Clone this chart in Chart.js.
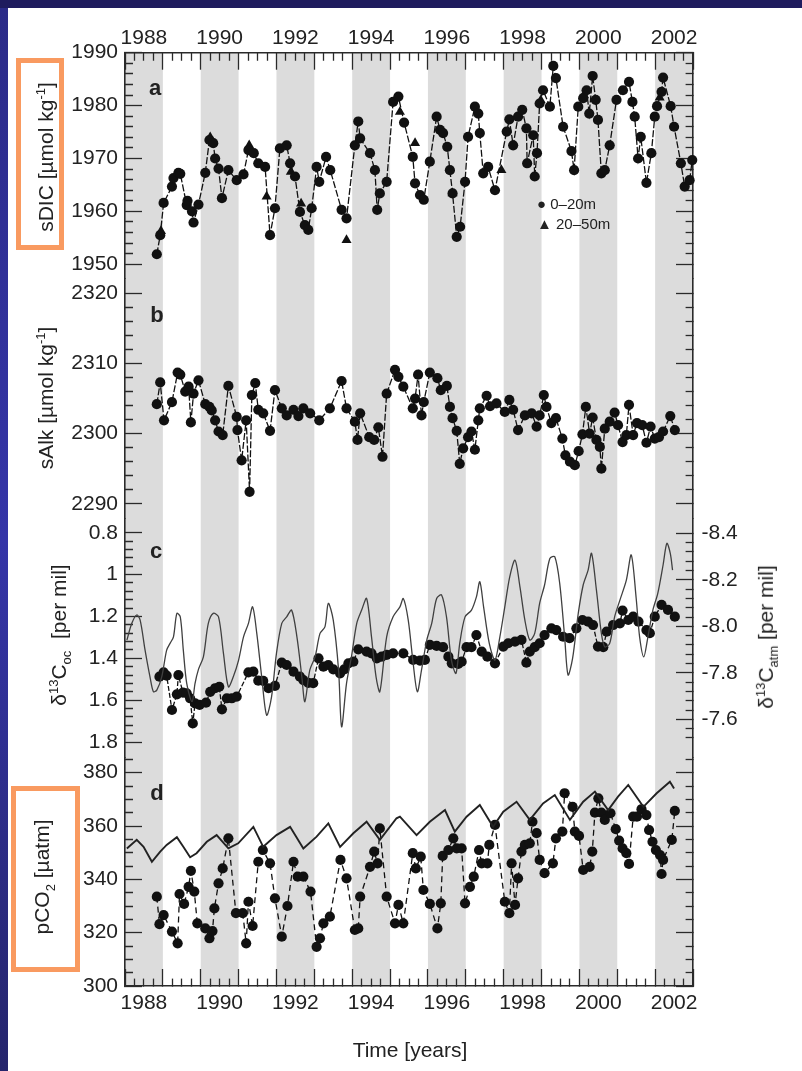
<!DOCTYPE html>
<html><head><meta charset="utf-8">
<script src="https://cdn.jsdelivr.net/npm/chart.js@4.4.0/dist/chart.umd.min.js"></script>
<style>
html,body{margin:0;padding:0;width:802px;height:1071px;overflow:hidden;background:#1f1c5e;font-family:"Liberation Sans",Arial,sans-serif;}
#paper{position:absolute;left:8px;top:8px;width:794px;height:1063px;background:#fff;}
#strip{position:absolute;left:0;top:8px;width:8px;height:1063px;background:linear-gradient(#2b2b88,#3535a8 50%,#25256c);}
#ttl{position:absolute;left:0;top:0;width:802px;height:8px;overflow:hidden;}
#ttl span{position:absolute;top:-36px;font-size:30px;line-height:34px;color:#f2d675;}
canvas{position:absolute;left:0;top:0;}
.t{position:absolute;white-space:nowrap;color:#222;font-size:21px;transform:translate(-50%,-50%) rotate(-90deg);line-height:1;}
.t sup,.t sub{font-size:13px;}
.box{position:absolute;border:5px solid #f99a60;box-sizing:border-box;}
.lt{position:absolute;font-weight:bold;font-size:22px;color:#222;transform:translate(-50%,-50%);}
.lg{position:absolute;font-size:15px;color:#222;white-space:nowrap;}
</style></head>
<body>
<div id="paper"></div><div id="strip"></div>
<div id="ttl"><span style="left:220px;">(</span><span style="left:413px;">)</span></div>
<div class="box" style="left:16px;top:58px;width:48px;height:192px;"></div>
<div class="box" style="left:11px;top:786px;width:69px;height:186px;"></div>
<canvas id="c" width="802" height="1071"></canvas>
<div class="t" style="left:45px;top:157px;">sDIC [µmol kg<sup>-1</sup>]</div>
<div class="t" style="left:45px;top:398px;">sAlk [µmol kg<sup>-1</sup>]</div>
<div class="t" style="left:60px;top:635px;">δ<sup>13</sup>C<sub>oc</sub>&nbsp;&nbsp;[per mil]</div>
<div class="t" style="left:44px;top:877px;">pCO<sub>2</sub> [µatm]</div>
<div class="t" style="left:767px;top:637px;">δ<sup>13</sup>C<sub>atm</sub> [per mil]</div>
<div class="lt" style="left:155px;top:88px;">a</div>
<div class="lt" style="left:157px;top:315px;">b</div>
<div class="lt" style="left:156px;top:551px;">c</div>
<div class="lt" style="left:157px;top:793px;">d</div>
<div class="lg" style="left:537px;top:195px;">●&nbsp;0–20m</div>
<div class="lg" style="left:537px;top:215px;">▲&nbsp;20–50m</div>
<div style="position:absolute;left:410px;top:1050px;transform:translate(-50%,-50%);font-size:21px;color:#222;white-space:nowrap;">Time [years]</div>
<script>
// ---------- DATA ----------
const bandStart = [1987.5, 1989.5, 1991.5, 1993.5, 1995.5, 1997.5, 1999.5, 2001.5];
const bandEnd   = [1988.5, 1990.5, 1992.5, 1994.5, 1996.5, 1998.5, 2000.5, 2002.5];
const yearLabels = [1988, 1990, 1992, 1994, 1996, 1998, 2000, 2002];

const sdic_0_20 = [[1988.34,1951.9],[1988.43,1955.5],[1988.52,1961.6],[1988.74,1964.7],[1988.78,1966.3],[1988.91,1967.3],[1988.96,1967.1],[1989.13,1961.2],[1989.15,1962.0],[1989.27,1960.0],[1989.31,1957.9],[1989.44,1961.3],[1989.62,1967.3],[1989.73,1973.5],[1989.83,1972.9],[1989.88,1970.0],[1989.97,1968.1],[1990.06,1962.5],[1990.23,1967.8],[1990.45,1965.9],[1990.63,1967.0],[1990.76,1971.6],[1990.90,1971.0],[1991.02,1969.1],[1991.20,1968.4],[1991.33,1955.5],[1991.46,1960.6],[1991.59,1971.9],[1991.77,1972.5],[1991.86,1969.1],[1991.99,1966.6],[1992.12,1959.9],[1992.25,1957.4],[1992.34,1956.5],[1992.43,1960.6],[1992.56,1968.4],[1992.63,1965.6],[1992.81,1970.3],[1992.92,1967.8],[1993.22,1960.3],[1993.35,1958.7],[1993.57,1972.5],[1993.66,1977.0],[1993.71,1973.8],[1993.97,1971.0],[1994.10,1967.8],[1994.16,1960.3],[1994.23,1963.4],[1994.41,1965.6],[1994.58,1980.7],[1994.72,1981.7],[1994.87,1976.8],[1995.10,1970.3],[1995.16,1965.3],[1995.29,1963.1],[1995.39,1962.2],[1995.55,1969.4],[1995.73,1977.9],[1995.82,1975.4],[1995.90,1974.8],[1996.01,1972.2],[1996.08,1967.8],[1996.15,1963.4],[1996.26,1955.2],[1996.35,1957.1],[1996.48,1965.6],[1996.56,1974.1],[1996.74,1979.8],[1996.83,1978.5],[1996.87,1974.8],[1996.96,1967.2],[1997.09,1968.4],[1997.27,1964.0],[1997.58,1975.1],[1997.65,1977.4],[1997.75,1972.5],[1997.88,1977.9],[1997.99,1979.2],[1998.10,1975.7],[1998.12,1969.1],[1998.28,1974.4],[1998.32,1966.6],[1998.38,1971.0],[1998.45,1980.4],[1998.54,1982.9],[1998.72,1979.8],[1998.81,1987.5],[1998.88,1985.2],[1999.07,1976.0],[1999.29,1971.4],[1999.36,1967.8],[1999.47,1979.8],[1999.60,1981.4],[1999.69,1982.9],[1999.76,1978.5],[1999.85,1985.6],[1999.93,1981.1],[1999.99,1977.3],[2000.08,1967.2],[2000.17,1967.8],[2000.30,1972.5],[2000.48,1981.1],[2000.65,1982.9],[2000.81,1984.5],[2000.90,1980.7],[2000.96,1977.9],[2001.05,1970.0],[2001.12,1974.1],[2001.27,1965.4],[2001.40,1971.0],[2001.49,1977.9],[2001.55,1979.9],[2001.67,1982.6],[2001.71,1985.3],[2001.91,1979.9],[2002.00,1976.0],[2002.18,1969.1],[2002.28,1964.7],[2002.41,1965.9],[2002.48,1969.7]];
const sdic_20_50 = [[1988.45,1956.3],[1989.75,1974.0],[1990.78,1972.5],[1991.24,1962.8],[1991.88,1967.5],[1992.15,1961.5],[1993.35,1954.6],[1994.76,1978.8],[1995.16,1972.9],[1996.15,1963.4],[1997.44,1967.8],[1998.48,1981.0],[1999.62,1982.0],[2001.62,1981.5]];

const salk = [[1988.34,2304.2],[1988.43,2307.3],[1988.53,2301.9],[1988.74,2304.5],[1988.89,2308.7],[1988.96,2308.4],[1989.09,2306.0],[1989.18,2306.7],[1989.24,2301.6],[1989.31,2305.7],[1989.44,2307.6],[1989.62,2304.2],[1989.73,2303.8],[1989.79,2303.3],[1989.88,2301.9],[1989.97,2300.3],[1990.08,2299.8],[1990.23,2306.8],[1990.45,2302.4],[1990.47,2300.5],[1990.58,2296.2],[1990.70,2301.9],[1990.79,2291.7],[1990.85,2305.5],[1990.94,2307.2],[1991.02,2303.4],[1991.15,2302.9],[1991.33,2300.4],[1991.46,2306.2],[1991.64,2303.6],[1991.77,2302.6],[1991.95,2303.4],[1992.08,2302.5],[1992.21,2303.6],[1992.39,2302.9],[1992.63,2301.9],[1992.91,2303.6],[1993.22,2307.5],[1993.35,2303.6],[1993.57,2301.7],[1993.64,2299.1],[1993.71,2302.9],[1993.95,2299.5],[1994.08,2299.1],[1994.19,2300.9],[1994.30,2296.7],[1994.41,2305.7],[1994.63,2309.1],[1994.72,2308.1],[1994.85,2306.7],[1995.10,2303.6],[1995.16,2305.0],[1995.24,2308.4],[1995.33,2302.6],[1995.39,2304.5],[1995.55,2308.7],[1995.75,2307.9],[1995.84,2306.2],[1996.00,2306.8],[1996.08,2303.8],[1996.15,2302.2],[1996.26,2300.4],[1996.34,2295.7],[1996.43,2297.9],[1996.56,2299.5],[1996.65,2300.3],[1996.74,2297.7],[1996.83,2301.9],[1996.87,2303.6],[1997.05,2305.4],[1997.14,2303.9],[1997.31,2304.3],[1997.53,2303.1],[1997.65,2304.8],[1997.75,2303.4],[1997.88,2300.5],[1998.06,2302.6],[1998.24,2302.9],[1998.37,2301.0],[1998.45,2302.6],[1998.56,2305.5],[1998.63,2303.8],[1998.76,2301.5],[1998.88,2302.2],[1999.05,2299.3],[1999.13,2296.9],[1999.25,2296.0],[1999.38,2295.5],[1999.48,2297.5],[1999.58,2299.9],[1999.67,2303.8],[1999.77,2300.0],[1999.85,2302.3],[1999.95,2299.1],[2000.04,2298.1],[2000.08,2295.0],[2000.17,2300.7],[2000.30,2301.7],[2000.43,2303.0],[2000.52,2301.2],[2000.64,2298.8],[2000.74,2299.8],[2000.81,2304.1],[2000.92,2299.8],[2001.02,2301.5],[2001.16,2301.2],[2001.27,2298.7],[2001.38,2301.0],[2001.49,2299.3],[2001.60,2299.5],[2001.71,2300.3],[2001.90,2302.5],[2002.02,2300.5]];

const d13c_ocean = [[1988.41,1.488],[1988.52,1.467],[1988.60,1.483],[1988.74,1.647],[1988.87,1.572],[1988.91,1.480],[1989.03,1.564],[1989.13,1.567],[1989.22,1.591],[1989.29,1.711],[1989.35,1.615],[1989.47,1.623],[1989.64,1.612],[1989.75,1.560],[1989.88,1.543],[1989.99,1.536],[1990.06,1.644],[1990.19,1.591],[1990.32,1.591],[1990.45,1.583],[1990.76,1.467],[1990.89,1.464],[1991.02,1.507],[1991.15,1.508],[1991.29,1.543],[1991.46,1.532],[1991.64,1.421],[1991.77,1.432],[1991.95,1.464],[1992.12,1.488],[1992.21,1.504],[1992.34,1.517],[1992.47,1.519],[1992.61,1.400],[1992.74,1.440],[1992.87,1.432],[1993.00,1.453],[1993.18,1.472],[1993.29,1.453],[1993.40,1.424],[1993.53,1.416],[1993.66,1.357],[1993.88,1.368],[1994.01,1.376],[1994.15,1.400],[1994.28,1.392],[1994.41,1.384],[1994.58,1.376],[1994.85,1.376],[1995.11,1.408],[1995.29,1.411],[1995.42,1.408],[1995.55,1.336],[1995.73,1.341],[1995.90,1.347],[1996.04,1.392],[1996.13,1.424],[1996.30,1.427],[1996.39,1.416],[1996.52,1.347],[1996.65,1.347],[1996.78,1.289],[1996.92,1.368],[1997.07,1.392],[1997.27,1.424],[1997.49,1.344],[1997.62,1.328],[1997.80,1.320],[1997.97,1.312],[1998.10,1.421],[1998.19,1.368],[1998.32,1.347],[1998.45,1.328],[1998.58,1.289],[1998.76,1.257],[1998.89,1.265],[1999.07,1.297],[1999.24,1.304],[1999.42,1.257],[1999.58,1.217],[1999.73,1.225],[1999.86,1.241],[1999.99,1.344],[2000.13,1.347],[2000.22,1.273],[2000.39,1.241],[2000.57,1.233],[2000.64,1.172],[2000.79,1.217],[2000.92,1.201],[2001.06,1.225],[2001.27,1.265],[2001.36,1.280],[2001.49,1.201],[2001.67,1.145],[2001.84,1.169],[2002.02,1.201]];

const d13c_atm = [[1987.55,-7.941],[1987.68,-8.013],[1987.81,-8.049],[1987.90,-8.027],[1988.03,-7.898],[1988.16,-7.783],[1988.25,-7.719],[1988.34,-7.726],[1988.47,-7.783],[1988.60,-7.898],[1988.69,-7.927],[1988.78,-7.955],[1988.87,-8.056],[1988.96,-8.041],[1989.04,-7.898],[1989.13,-7.755],[1989.27,-7.676],[1989.35,-7.755],[1989.44,-7.815],[1989.57,-7.869],[1989.70,-8.013],[1989.83,-8.056],[1989.97,-8.041],[1990.10,-7.884],[1990.23,-7.740],[1990.36,-7.783],[1990.50,-7.855],[1990.63,-7.955],[1990.76,-8.013],[1990.87,-8.084],[1990.98,-7.970],[1991.11,-7.783],[1991.24,-7.618],[1991.37,-7.697],[1991.50,-7.884],[1991.64,-8.013],[1991.77,-8.041],[1991.90,-8.070],[1992.04,-7.955],[1992.17,-7.783],[1992.25,-7.676],[1992.38,-7.812],[1992.52,-7.869],[1992.65,-7.970],[1992.78,-7.998],[1992.87,-8.099],[1993.00,-8.027],[1993.14,-7.812],[1993.22,-7.568],[1993.35,-7.755],[1993.48,-7.869],[1993.62,-8.013],[1993.75,-8.070],[1993.88,-8.120],[1994.01,-7.955],[1994.13,-7.783],[1994.23,-7.719],[1994.41,-7.955],[1994.58,-8.041],[1994.76,-8.084],[1994.85,-8.120],[1994.98,-8.027],[1995.11,-7.841],[1995.22,-7.719],[1995.33,-7.812],[1995.47,-7.941],[1995.60,-8.013],[1995.73,-8.120],[1995.86,-8.135],[1995.99,-8.041],[1996.12,-7.855],[1996.24,-7.798],[1996.34,-7.927],[1996.48,-8.041],[1996.65,-8.070],[1996.78,-8.127],[1996.87,-8.192],[1996.97,-8.084],[1997.12,-7.927],[1997.27,-7.855],[1997.40,-7.955],[1997.53,-8.084],[1997.66,-8.213],[1997.80,-8.285],[1997.93,-8.170],[1998.06,-8.027],[1998.19,-7.941],[1998.32,-7.970],[1998.45,-8.099],[1998.58,-8.178],[1998.72,-8.292],[1998.85,-8.299],[1998.98,-8.185],[1999.11,-7.955],[1999.20,-7.791],[1999.32,-7.862],[1999.47,-8.056],[1999.60,-8.178],[1999.73,-8.242],[1999.82,-8.314],[1999.95,-8.156],[2000.08,-7.970],[2000.17,-7.912],[2000.30,-7.927],[2000.43,-8.041],[2000.57,-8.113],[2000.74,-8.199],[2000.87,-8.307],[2001.00,-8.120],[2001.09,-7.955],[2001.20,-7.869],[2001.31,-7.955],[2001.44,-8.070],[2001.57,-8.142],[2001.71,-8.264],[2001.81,-8.357],[2001.90,-8.314],[2001.96,-8.242]];

const pco2_ocean = [[1988.34,333.5],[1988.41,323.2],[1988.52,326.6],[1988.74,320.4],[1988.89,316.0],[1988.94,334.5],[1989.06,330.8],[1989.18,337.2],[1989.24,343.2],[1989.33,335.4],[1989.41,323.5],[1989.62,321.6],[1989.73,317.9],[1989.81,320.6],[1989.86,329.1],[1989.97,338.5],[1990.08,344.1],[1990.23,355.4],[1990.43,327.3],[1990.61,327.3],[1990.70,316.0],[1990.76,331.6],[1990.87,322.5],[1991.02,346.6],[1991.14,351.0],[1991.33,346.0],[1991.46,332.9],[1991.64,318.5],[1991.79,330.0],[1991.95,346.6],[1992.06,341.0],[1992.21,341.0],[1992.40,335.4],[1992.56,314.7],[1992.65,317.9],[1992.74,323.5],[1992.91,326.0],[1993.19,347.3],[1993.35,340.4],[1993.57,321.0],[1993.66,321.6],[1993.71,333.5],[1993.97,344.7],[1994.08,350.4],[1994.17,346.0],[1994.23,359.1],[1994.41,333.5],[1994.63,323.5],[1994.72,330.4],[1994.85,323.5],[1995.10,349.8],[1995.18,344.1],[1995.31,348.5],[1995.38,336.0],[1995.55,330.8],[1995.75,321.6],[1995.84,331.0],[1995.89,348.8],[1996.04,351.0],[1996.17,355.4],[1996.26,351.6],[1996.39,351.6],[1996.48,331.0],[1996.61,337.2],[1996.71,341.0],[1996.85,351.0],[1996.92,346.0],[1997.07,346.0],[1997.12,352.9],[1997.27,360.4],[1997.53,331.6],[1997.65,327.3],[1997.71,346.0],[1997.80,330.4],[1997.88,340.4],[1997.97,350.4],[1998.06,352.9],[1998.19,353.5],[1998.26,361.6],[1998.37,357.3],[1998.45,347.3],[1998.58,342.3],[1998.80,346.0],[1998.88,355.4],[1999.05,357.9],[1999.11,372.3],[1999.32,367.2],[1999.38,357.9],[1999.49,356.3],[1999.60,343.5],[1999.77,344.7],[1999.84,350.4],[1999.91,365.0],[2000.00,370.4],[2000.08,365.0],[2000.17,362.3],[2000.32,364.8],[2000.46,358.8],[2000.55,354.5],[2000.64,351.6],[2000.74,349.8],[2000.81,345.8],[2000.92,363.5],[2001.02,363.5],[2001.14,366.3],[2001.27,364.1],[2001.34,358.5],[2001.43,354.1],[2001.52,351.0],[2001.63,349.1],[2001.67,342.0],[2001.71,347.3],[2001.94,354.8],[2002.02,365.7]];

const pco2_atm = [[1987.55,351.6],[1987.81,354.8],[1987.99,352.2],[1988.21,346.6],[1988.43,350.4],[1988.60,352.9],[1988.87,355.8],[1989.04,352.2],[1989.22,348.3],[1989.39,349.8],[1989.66,354.1],[1989.92,356.6],[1990.23,351.6],[1990.49,353.5],[1990.89,359.7],[1991.15,352.2],[1991.50,356.6],[1991.86,359.7],[1992.21,351.6],[1992.56,356.0],[1992.87,361.0],[1993.18,352.2],[1993.53,357.3],[1993.88,361.6],[1994.23,354.8],[1994.67,362.9],[1994.76,363.5],[1995.20,356.6],[1995.55,361.6],[1995.95,366.0],[1996.21,357.9],[1996.52,363.5],[1996.87,367.9],[1997.22,359.7],[1997.49,365.4],[1997.84,369.1],[1998.19,362.3],[1998.54,368.5],[1998.85,371.6],[1999.25,362.3],[1999.60,369.1],[1999.91,372.9],[2000.26,366.0],[2000.52,371.0],[2000.79,375.4],[2001.19,367.2],[2001.54,372.3],[2001.89,376.6],[2002.00,374.1]];

// tick values
const tickX = []; for (let k = 0; k <= 60; k++) tickX.push(1987.5 + k * 0.25);
const tickA = []; for (let v = 1950; v <= 1990; v += 2) tickA.push(v);
const tickB = []; for (let v = 2290; v <= 2320; v += 2) tickB.push(v);
const tickC = []; for (let k = 0; k <= 25; k++) tickC.push(+(0.8 + 0.04 * k).toFixed(2));
const tickCR = []; for (let k = 0; k <= 22; k++) tickCR.push(+(-8.4 + 0.04 * k).toFixed(2));
const tickD = []; for (let v = 300; v <= 385; v += 5) tickD.push(v);

// ---------- CHART ----------
const FONT = "'Liberation Sans', Arial, sans-serif";
Chart.defaults.font.family = FONT;
const TL = 17, TS = 8, INK = '#2a2a2a';
const dashInner = [0, TL - TS, TS + 3, 1000];
const dashOuter = [TS, 1000];

function bandPlugin() {
  return {
    id: 'bands',
    beforeDraw(chart) {
      const {ctx, chartArea, scales} = chart;
      const x = scales.x;
      ctx.save();
      ctx.fillStyle = '#dcdcdc';
      for (let i = 0; i < bandStart.length; i++) {
        const x0 = x.getPixelForValue(bandStart[i]);
        const x1 = x.getPixelForValue(bandEnd[i]);
        ctx.fillRect(x0, chartArea.top, x1 - x0, chartArea.bottom - chartArea.top);
      }
      ctx.restore();
    }
  };
}

function yAxis(side, lo, hi, ticks, isMajor, fmt, weight, stackWeight, reverse, labels, pad) {
  return {
    type: 'linear', axis: 'y', position: side === 'L' ? 'left' : 'right',
    stack: side, stackWeight: stackWeight, weight: weight,
    min: lo, max: hi, reverse: reverse,
    afterBuildTicks: s => { s.ticks = ticks.map(v => ({value: v})); },
    afterFit: s => { s.width = side === 'L' ? 100 : 60; },
    grid: {
      drawOnChartArea: false, drawTicks: true, tickLength: -TL, tickWidth: 1.3, tickColor: INK,
      tickBorderDash: c => (c.tick && isMajor(c.tick.value)) ? [] : (side === 'L' ? dashInner : dashOuter)
    },
    border: {display: true, color: INK, width: 1.6},
    ticks: {
      display: labels, autoSkip: false, maxRotation: 0, padding: pad, color: '#222',
      font: {family: FONT, size: 21},
      callback: v => (labels && isMajor(v)) ? fmt(v) : ''
    }
  };
}

function xAxis(pos) {
  return {
    type: 'linear', axis: 'x', position: pos, min: 1987.5, max: 2002.5,
    afterBuildTicks: s => { s.ticks = tickX.map(v => ({value: v})); },
    afterFit: s => { s.height = pos === 'bottom' ? 45 : 40; },
    grid: {
      drawOnChartArea: false, drawTicks: true, tickLength: -TL, tickWidth: 1.3, tickColor: INK,
      tickBorderDash: c => (c.tick && (c.tick.value % 1 === 0.5)) ? [] : (pos === 'top' ? dashInner : dashOuter)
    },
    border: {display: true, color: INK, width: 1.6},
    ticks: {
      autoSkip: false, maxRotation: 0, minRotation: 0, padding: pos === 'bottom' ? 22 : 19, color: '#222',
      font: {family: FONT, size: 21},
      callback: v => yearLabels.includes(v) ? String(v) : ''
    }
  };
}

const m10 = v => Math.abs(v % 10) < 1e-6;
const m20 = v => Math.abs(v % 20) < 1e-6;
const m02 = v => Math.abs(v * 5 - Math.round(v * 5)) < 1e-6;
const asInt = v => String(v);
const asC = v => String(Math.round(v * 5) / 5);
const asCR = v => (Math.round(v * 5) / 5).toFixed(1);

const pts = arr => arr.map(p => ({x: p[0], y: p[1]}));

const markerSet = (data, yID, dash, extra) => Object.assign({
  data: pts(data), xAxisID: 'x', yAxisID: yID, showLine: true, clip: false,
  borderColor: '#111', borderWidth: 1.3, borderDash: dash,
  pointStyle: 'circle', pointRadius: 5.1, pointBackgroundColor: '#111', pointBorderColor: '#111', pointBorderWidth: 0,
  tension: 0
}, extra || {});

new Chart(document.getElementById('c'), {
  type: 'line',
  data: {
    datasets: [
      markerSet(sdic_0_20, 'yA', [7, 2]),
      markerSet(sdic_20_50, 'yA', [], {showLine: false, pointStyle: 'triangle', pointRadius: 5.8}),
      markerSet(salk, 'yB', [7, 2]),
      {data: pts(d13c_atm), xAxisID: 'x', yAxisID: 'yC2', showLine: true, borderColor: '#404040', borderWidth: 1.3, pointRadius: 0, tension: 0.3, clip: false},
      markerSet(d13c_ocean, 'yC', [5, 2]),
      {data: pts(pco2_atm), xAxisID: 'x', yAxisID: 'yD', showLine: true, borderColor: '#222', borderWidth: 1.9, pointRadius: 0, tension: 0, clip: false},
      markerSet(pco2_ocean, 'yD', [6, 4])
    ]
  },
  options: {
    responsive: false, animation: false, devicePixelRatio: 1,
    layout: {padding: {left: 25, right: 49, top: 12.7, bottom: 40}},
    plugins: {legend: {display: false}, tooltip: {enabled: false}},
    scales: {
      x: xAxis('bottom'),
      x2: xAxis('top'),
      yA: yAxis('L', 1947.3, 1990, tickA, m10, asInt, 4, 225.9, false, true, 24),
      yB: yAxis('L', 2287.9, 2322.1, tickB, m10, asInt, 3, 239.9, false, true, 24),
      yC: yAxis('L', 0.732, 1.874, tickC, m02, asC, 2, 239, true, true, 24),
      yD: yAxis('L', 300, 385.7, tickD, m20, asInt, 1, 228.5, false, true, 24),
      yA2: yAxis('R', 1947.3, 1990, tickA, m10, asInt, 1, 225.9, false, false, 25),
      yB2: yAxis('R', 2287.9, 2322.1, tickB, m10, asInt, 2, 239.9, false, false, 25),
      yC2: yAxis('R', -8.464, -7.436, tickCR, m02, asCR, 3, 239, true, true, 25.5),
      yD2: yAxis('R', 300, 385.7, tickD, m20, asInt, 4, 228.5, false, false, 25)
    }
  },
  plugins: [bandPlugin()]
});
</script>
</body></html>
